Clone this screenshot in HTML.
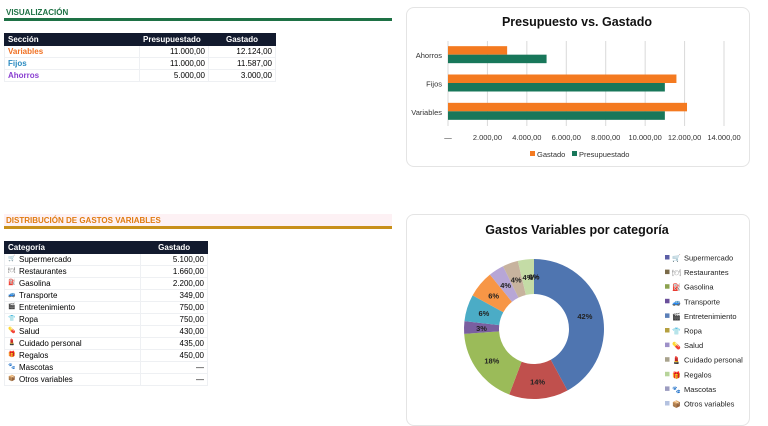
<!DOCTYPE html>
<html><head><meta charset="utf-8"><style>
body{margin:0;width:768px;height:414px;background:#fff;font-family:"Liberation Sans","Noto Sans CJK JP",sans-serif;position:relative;overflow:hidden}
.abs{position:absolute}
table{border-collapse:collapse;font-size:8px;position:absolute}
td,th{padding:0 3px;height:11px;line-height:11px;border:1px solid #eef0f3;white-space:nowrap;overflow:hidden}
th{background:#121a2e;color:#fff;font-weight:bold;text-align:left;border-color:#121a2e}
.r{text-align:right}
.ic{display:inline-block;width:8px;height:10px;line-height:10px;font-size:6px;color:#777;margin-right:3px;vertical-align:top;overflow:hidden}
</style></head><body>
<div class="abs" style="left:6px;top:8px;font-size:8px;font-weight:bold;color:#1e7145">VISUALIZACIÓN</div>
<div class="abs" style="left:4px;top:18px;width:388px;height:3px;background:#1e7145"></div>
<table style="left:4px;top:33px;width:272px">
<tr><th style="width:128px">Sección</th><th style="width:62px">Presupuestado</th><th style="width:60px;text-align:center">Gastado</th></tr>
<tr><td style="color:#f07022;font-weight:bold">Variables</td><td class="r">11.000,00</td><td class="r">12.124,00</td></tr>
<tr><td style="color:#2a8ac0;font-weight:bold">Fijos</td><td class="r">11.000,00</td><td class="r">11.587,00</td></tr>
<tr><td style="color:#8a3fd1;font-weight:bold">Ahorros</td><td class="r">5.000,00</td><td class="r">3.000,00</td></tr>
</table>

<div class="abs" style="left:406px;top:7px;width:342px;height:158px;border:1px solid #e4e4e4;border-radius:8px"></div>
<svg class="abs" style="left:0;top:0" width="768" height="414" id="bar"></svg>

<div class="abs" style="left:4px;top:214px;width:388px;height:12px;background:#fdf1f4"></div>
<div class="abs" style="left:6px;top:216px;font-size:8px;font-weight:bold;color:#e07b10">DISTRIBUCIÓN DE GASTOS VARIABLES</div>
<div class="abs" style="left:4px;top:226px;width:388px;height:3px;background:#c8901b"></div>
<table style="left:4px;top:241px;width:204px">
<tr><th style="width:130px">Categoría</th><th style="width:60px;text-align:center">Gastado</th></tr>
<tr><td><span class="ic">🛒</span>Supermercado</td><td class="r">5.100,00</td></tr>
<tr><td><span class="ic">🍽</span>Restaurantes</td><td class="r">1.660,00</td></tr>
<tr><td><span class="ic">⛽</span>Gasolina</td><td class="r">2.200,00</td></tr>
<tr><td><span class="ic">🚙</span>Transporte</td><td class="r">349,00</td></tr>
<tr><td><span class="ic">🎬</span>Entretenimiento</td><td class="r">750,00</td></tr>
<tr><td><span class="ic">👕</span>Ropa</td><td class="r">750,00</td></tr>
<tr><td><span class="ic">💊</span>Salud</td><td class="r">430,00</td></tr>
<tr><td><span class="ic">💄</span>Cuidado personal</td><td class="r">435,00</td></tr>
<tr><td><span class="ic">🎁</span>Regalos</td><td class="r">450,00</td></tr>
<tr><td><span class="ic">🐾</span>Mascotas</td><td class="r">—</td></tr>
<tr><td><span class="ic">📦</span>Otros variables</td><td class="r">—</td></tr>
</table>

<div class="abs" style="left:406px;top:214px;width:342px;height:210px;border:1px solid #e4e4e4;border-radius:8px"></div>
<svg class="abs" style="left:0;top:0" width="768" height="414" id="pie"></svg>

<script>
const barCats=["Variables","Fijos","Ahorros"];
const gastado=[12124,11587,3000];
const presupuestado=[11000,11000,5000];
const xTicks=[0,2000,4000,6000,8000,10000,12000,14000];
const xTickLabels=["—","2.000,00","4.000,00","6.000,00","8.000,00","10.000,00","12.000,00","14.000,00"];

const pieCats=["Supermercado","Restaurantes","Gasolina","Transporte","Entretenimiento","Ropa","Salud","Cuidado personal","Regalos","Mascotas","Otros variables"];
const pieVals=[5100,1660,2200,349,750,750,430,435,450,0,0];
const pieColors=["#4f75b0","#c0504d","#9bbb59","#7a5fa0","#4bacc6","#f79646","#b7a6d6","#c7b39e","#c4dca6","#a9b6d8","#c0c9e6"];
const legColors=["#5b5ea6","#7a6a48","#8ca24f","#6a4f9a","#5b7fb8","#b5a040","#9d90c8","#a8a28c","#b7d49a","#9c9cc0","#b4c2e0"];

const NS="http://www.w3.org/2000/svg";
function mk(p,t,a,txt){const e=document.createElementNS(NS,t);for(const k in a)e.setAttribute(k,a[k]);if(txt!==undefined)e.textContent=txt;p.appendChild(e);return e;}

const b=document.getElementById('bar');
const x0=448,x1=724,yTop=41,yBot=126;
const xs=v=>x0+(v-0)/(14000)*(x1-x0);
const band=(yBot-yTop)/barCats.length;
const yc=i=>yBot-band*(i+0.5);
let t=mk(b,'text',{x:577,y:26,'text-anchor':'middle','font-size':12.5,'font-weight':'bold',fill:'#111'},'Presupuesto vs. Gastado');

xTicks.forEach((v,i)=>{
  if(i>0){const g=mk(b,'line',{x1:xs(v),x2:xs(v),y1:yTop,y2:yBot,stroke:'#d9d9d9','stroke-width':1});
  }
  const l=mk(b,'text',{x:xs(v),y:140,'text-anchor':'middle','font-size':7.5,fill:'#333'},xTickLabels[i]);
  
});
const ax=mk(b,'line',{x1:x0,x2:x0,y1:yTop,y2:yBot,stroke:'#d9d9d9'});

barCats.forEach((c,i)=>{
  const y=yc(i);
  const r1=mk(b,'rect',{x:x0,y:y-9,width:xs(gastado[i])-x0,height:8.5,fill:'#f47a20'});
  
  const r2=mk(b,'rect',{x:x0,y:y-0.5,width:xs(presupuestado[i])-x0,height:8.5,fill:'#18775a'});
  
  const l=mk(b,'text',{x:442,y:y+3,'text-anchor':'end','font-size':7.5,fill:'#333'},c);
  
});
[["Gastado","#f47a20",530],["Presupuestado","#18775a",572]].forEach(([n,c,x])=>{
  const r=mk(b,'rect',{x:x,y:151,width:5,height:5,fill:c});
  
  const l=mk(b,'text',{x:x+7,y:157,'font-size':7.5,fill:'#333'},n);
  
});

const p=document.getElementById('pie');
const cx=534,cy=329,R=70,r=35;
t=mk(p,'text',{x:577,y:234,'text-anchor':'middle','font-size':12.5,'font-weight':'bold',fill:'#111'},'Gastos Variables por categoría');

const tot=pieVals.reduce((a,c)=>a+c,0);
let ang=0;
const pt=(a,rad)=>[cx+rad*Math.sin(a),cy-rad*Math.cos(a)];
pieVals.forEach((v,i)=>{
  const a0=ang,a1=ang+v/tot*2*Math.PI;ang=a1;
  const frac=v/tot;
  if(v>0){
    const lg=(a1-a0)>Math.PI?1:0;
    const [ax0,ay0]=pt(a0,R),[ax1,ay1]=pt(a1,R),[bx1,by1]=pt(a1,r),[bx0,by0]=pt(a0,r);
    const s=mk(p,'path',{d:`M${ax0},${ay0}A${R},${R} 0 ${lg} 1 ${ax1},${ay1}L${bx1},${by1}A${r},${r} 0 ${lg} 0 ${bx0},${by0}Z`,fill:pieColors[i]});
    
    
  }
  const [lx,ly]=pt((a0+a1)/2,(R+r)/2);
  const lb=mk(p,'text',{x:lx,y:ly+3,'text-anchor':'middle','font-size':7.5,'font-weight':'bold',fill:'#222'},Math.round(frac*100)+'%');
  
});
const icons=["🛒","🍽","⛽","🚙","🎬","👕","💊","💄","🎁","🐾","📦"];
pieCats.forEach((c,i)=>{
  const y=258+i*14.6;
  const m=mk(p,'rect',{x:665,y:y-3,width:4.5,height:4.5,fill:legColors[i]});
  
  const ic=mk(p,'text',{x:672,y:y+2.5,'font-size':7,fill:'#888'},icons[i]);
  
  const l=mk(p,'text',{x:684,y:y+2.5,'font-size':7.5,fill:'#222'},c);
  
});
</script>
</body></html>
